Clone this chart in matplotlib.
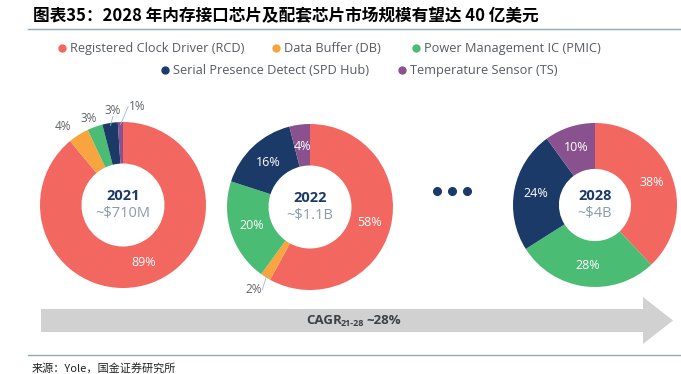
import numpy as np
import matplotlib
matplotlib.use('Agg')
import matplotlib.pyplot as plt
from matplotlib.patches import Polygon

W, H = 681, 374

# data
segments = ["Registered Clock Driver (RCD)", "Data Buffer (DB)", "Power Management IC (PMIC)",
            "Serial Presence Detect (SPD Hub)", "Temperature Sensor (TS)"]
years = ["2021", "2022", "2028"]
market = ["~$710M", "~$1.1B", "~$4B"]
share_2021 = [89, 4, 3, 3, 1]
share_2022 = [58, 2, 20, 16, 4]
share_2028 = [38, 0, 28, 24, 10]
cagr_label = "CAGR"
cagr_period = "21-28"
cagr_value = "~28%"

colors = ["#f2675f", "#f8a43f", "#4bbc74", "#1b3a68", "#89528f"]
navy = "#1b3a68"
grey_txt = "#555b61"

plt.rcParams['font.family'] = ['Open Sans', 'Noto Sans CJK SC', 'DejaVu Sans']

fig = plt.figure(figsize=(W / 100, H / 100), dpi=100)
ax = fig.add_axes([0, 0, 1, 1])


def Y(y):
    return H - y


# donut layout: center x, center y, radius, hole ratio
donuts = [(123, 205, 83, 0.50), (310, 207, 83, 0.50), (595, 205, 82, 0.44)]
# labels outside the ring: (angle nudge deg, radius factor, leader line)
outside = {(0, 1): (5, 1.19, False), (0, 2): (2, 1.12, False),
           (0, 3): (-3, 1.15, True), (0, 4): (-10, 1.20, True),
           (1, 1): (-2, 1.21, True)}

for i, vals in enumerate([share_2021, share_2022, share_2028]):
    cx, cy, r, hole = donuts[i]
    wedges, _ = ax.pie(vals, colors=colors, startangle=90, counterclock=False,
                       radius=r, center=(cx, Y(cy)),
                       wedgeprops=dict(width=r * (1 - hole), linewidth=0))
    for j, w in enumerate(wedges):
        if vals[j] == 0:
            continue
        mid = np.deg2rad((w.theta1 + w.theta2) / 2)
        if (i, j) in outside:
            nudge, rf, lead = outside[(i, j)]
            a = mid + np.deg2rad(nudge)
            tx, ty = cx + rf * r * np.cos(a), Y(cy) + rf * r * np.sin(a)
            ax.text(tx, ty, f"{vals[j]}%", ha='center', va='center',
                    fontsize=8.5, color="#5f6468")
            if lead:
                px, py = cx + 0.97 * r * np.cos(mid), Y(cy) + 0.97 * r * np.sin(mid)
                if abs(px - tx) > 6:
                    sx, sy = tx + 9 * np.sign(px - tx), ty
                else:
                    sx, sy = tx, ty - 6
                ax.annotate("", xy=(px, py), xytext=(sx, sy),
                            arrowprops=dict(arrowstyle='-', color="#9db8dc", lw=0.6,
                                            shrinkA=0, shrinkB=0))
        else:
            tx, ty = cx + 0.74 * r * np.cos(mid), Y(cy) + 0.74 * r * np.sin(mid)
            ax.text(tx, ty, f"{vals[j]}%", ha='center', va='center',
                    fontsize=9, color="white")
    ax.text(cx, Y(cy - 9), years[i], ha='center', va='center', fontsize=10.5,
            fontweight='bold', color=navy)
    ax.text(cx, Y(cy + 8), market[i], ha='center', va='center', fontsize=10.5,
            color="#8b9aa7")

# the dots between 2022 and 2028
ax.plot([437, 452, 467], [Y(191)] * 3, 'o', color=navy, markersize=5.5)

# legend
leg_pos = [(62, 48), (276, 48), (416, 48), (165, 70), (402, 70)]
for k, (lx, ly) in enumerate(leg_pos):
    ax.plot(lx, Y(ly), 'o', color=colors[k], markersize=5)
    ax.text(lx + 8, Y(ly), segments[k], ha='left', va='center', fontsize=9.2,
            color=grey_txt)

ax.set_xlim(0, W)
ax.set_ylim(0, H)
ax.set_aspect('auto')
ax.axis('off')

# growth arrow
arrow = Polygon([(41, Y(309)), (643, Y(309)), (643, Y(297)), (673, Y(320.5)),
                 (643, Y(344)), (643, Y(332)), (41, Y(332))],
                closed=True, facecolor="#d0d1d0", edgecolor='none')
ax.add_patch(arrow)

ink = "#3b4045"
t1 = ax.text(306, Y(321), cagr_label, ha='left', va='center', fontsize=9.5,
             fontweight='bold', color=ink)
fig.canvas.draw()
rend = fig.canvas.get_renderer()
inv = ax.transData.inverted()
x1 = t1.get_window_extent(rend).transformed(inv).x1
t2 = ax.text(x1 - 1, Y(324), cagr_period, ha='left', va='center', fontsize=6.5,
             fontweight='bold', color=ink)
fig.canvas.draw()
x2 = t2.get_window_extent(rend).transformed(inv).x1
ax.text(x2 + 2, Y(321), cagr_value, ha='left', va='center', fontsize=9.5,
        fontweight='bold', color=ink)

# title, rules and source
ax.text(33, Y(16), "图表35：2028 年内存接口芯片及配套芯片市场规模有望达 40 亿美元",
        ha='left', va='center', fontsize=12, fontweight='bold', fontstyle='italic',
        family=['Noto Sans CJK SC', 'DejaVu Sans'])
ax.plot([28, W], [Y(29), Y(29)], color="#8fa9c0", lw=1)
ax.plot([28, W], [Y(355), Y(355)], color="#8fa9c0", lw=1)
ax.text(32, Y(368), "来源：Yole，国金证券研究所", ha='left', va='center', fontsize=8,
        color="#222222", family=['Noto Sans CJK SC', 'DejaVu Sans'])

fig.savefig("out.png", dpi=100)
